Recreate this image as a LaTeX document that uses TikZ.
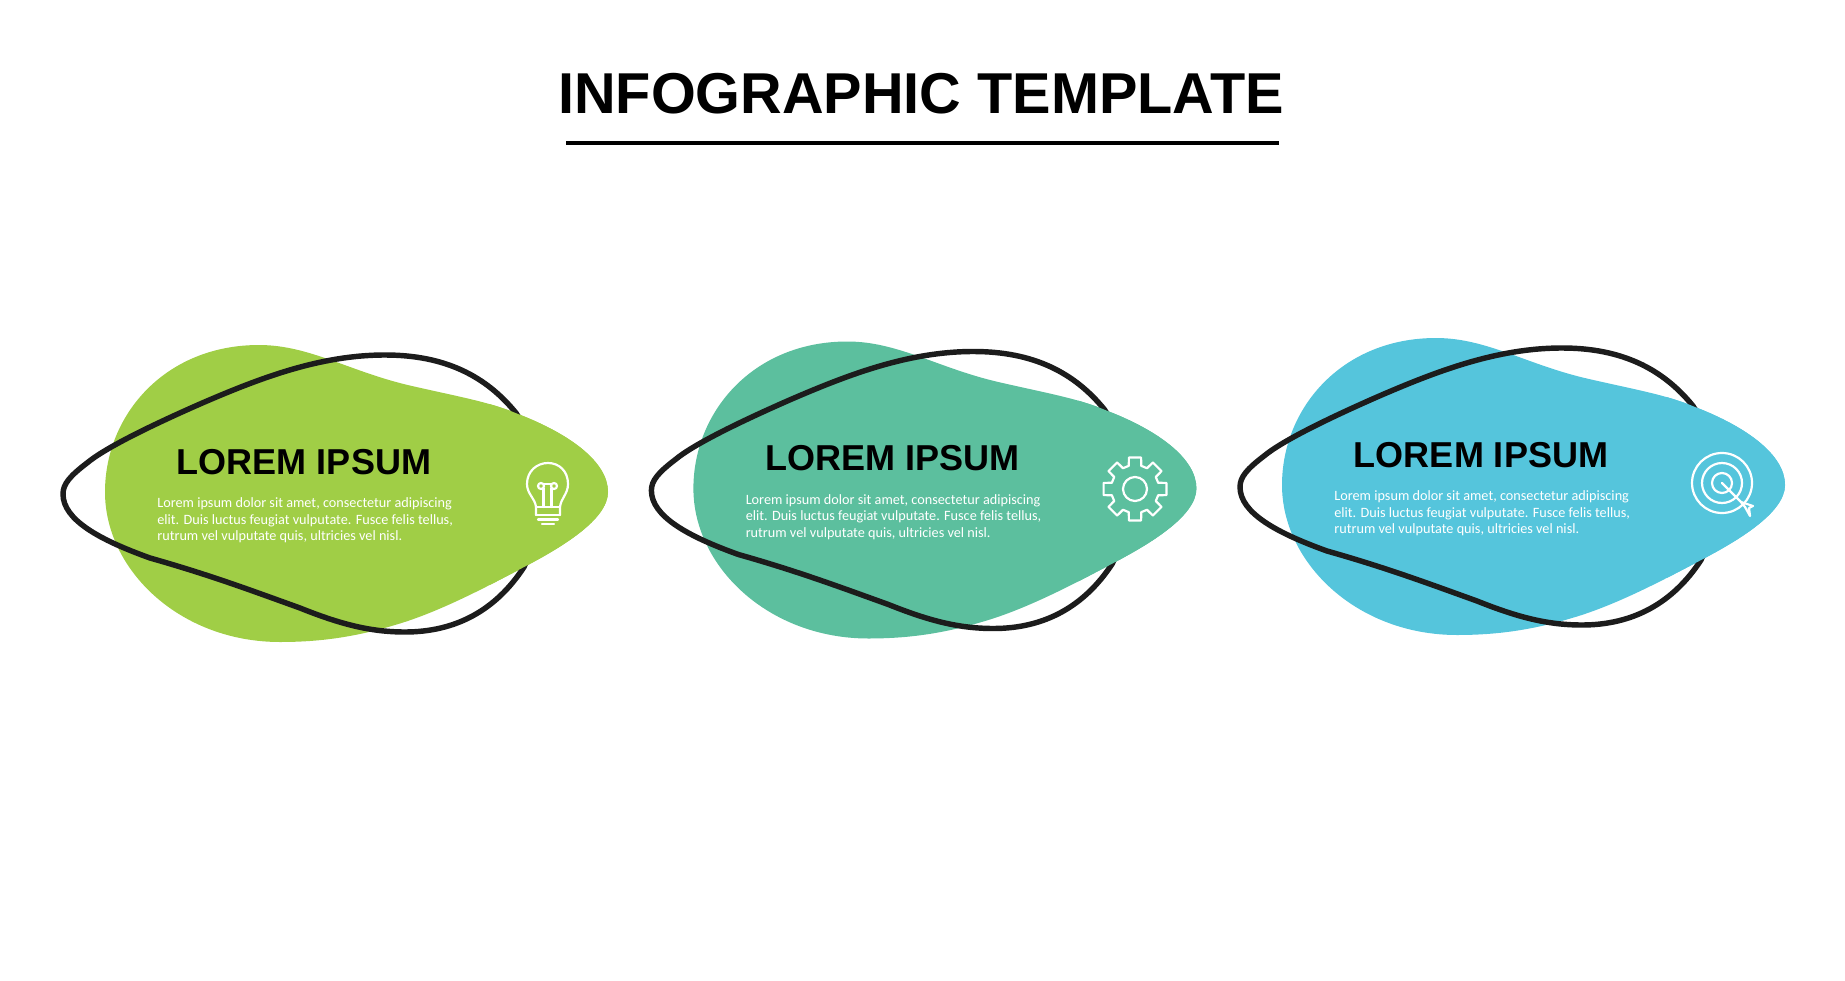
\documentclass[tikz,border=0pt]{standalone}
\usepackage{xcolor}
\usepackage{fontspec}
\setmainfont{Liberation Sans}
\newfontfamily\bodyfont{Carlito}
\usetikzlibrary{positioning,shapes,arrows}
\definecolor{cardgreen}{HTML}{A0CE46}
\definecolor{cardteal}{HTML}{5CBF9E}
\definecolor{cardblue}{HTML}{55C5DC}
\definecolor{ringline}{HTML}{1C1C1C}
\newcommand{\blobshape}{(259,345) .. controls (310,345) and (350,372) .. (412,386) .. controls (460,397) and (490,402) .. (518,414) .. controls (570,434) and (608,462) .. (608,492) .. controls (608,520) and (560,548) .. (526,566) .. controls (490,585) and (440,612) .. (395,625) .. controls (355,637) and (320,642) .. (280,642) .. controls (180,642) and (105,570) .. (105,492) .. controls (105,415) and (165,345) .. (259,345) -- cycle}
\newcommand{\ringshape}{(516,413) .. controls (486,376) and (445,355) .. (385,355) .. controls (320,355) and (260,378) .. (200,404) .. controls (150,426) and (105,448) .. (87,463) .. controls (70,476) and (63,484) .. (63,494) .. controls (63,520) and (100,540) .. (150,558) .. controls (210,575) and (250,590) .. (300,608) .. controls (340,624) and (370,632) .. (405,632) .. controls (456,632) and (496,610) .. (524,567) .. controls (541,530) and (541,450) .. (516,413) -- cycle}
\tikzset{
  titletext/.style={font=\fontsize{32.8}{36}\selectfont\bfseries, text=black, inner sep=0pt},
  headtext/.style={font=\fontsize{20.5}{24}\selectfont\bfseries, text=black, inner sep=0pt, anchor=base},
  bodytext/.style={font=\bodyfont\fontsize{8.1}{9.5}\selectfont, text=white, inner sep=0pt, anchor=west, align=left},
  iconline/.style={draw=white, line width=1.25pt, line join=round, line cap=round}
}
\begin{document}
\begin{tikzpicture}[x=0.02cm,y=-0.02cm]
  \useasboundingbox (0,0) rectangle (1845,980);
  \node[titletext] (title) at (921,94) {INFOGRAPHIC TEMPLATE};
  \coordinate (ruleL) at (566,143);
  \coordinate (ruleR) at (1279,143);
  \draw[line width=2.6pt, black] (ruleL) -- (ruleR);

  \foreach \n/\cardcolor/\dx/\dy in {1/cardgreen/0/0, 2/cardteal/588.4/-3.5, 3/cardblue/1177/-7}
  {
    \begin{scope}[shift={(\dx,\dy)}]
      \fill[\cardcolor] \blobshape;
      \draw[ringline, line width=3.1pt] \ringshape;
      % right part of the ring goes under the blob
      \begin{scope}
        \clip (490,380) rectangle (620,610);
        \fill[\cardcolor] \blobshape;
      \end{scope}
      \node[headtext] (head\n) at (304,474) {LOREM IPSUM};
      \node[bodytext] (body\n) at (157,520.5) {Lorem ipsum dolor sit amet, consectetur adipiscing\\elit. Duis luctus feugiat vulputate. Fusce felis tellus,\\rutrum vel vulputate quis, ultricies vel nisl.};
    \end{scope}
  }

  % bulb
  \begin{scope}[iconline]
    \draw (536,515) -- (536,507) .. controls (535,498) and (527,494) .. (527,484) .. controls (527,471) and (537,463) .. (548,463) .. controls (559,463) and (568,471) .. (568,484) .. controls (568,494) and (561,498) .. (560,507) -- (560,515);
    \draw (536,507) -- (560,507);
    \draw (536,515) -- (560,515);
    \draw (538,519.5) -- (558,519.5);
    \draw (542,524) -- (554,524);
    \draw (541,486) circle (3);
    \draw (554,486) circle (3);
    \draw (544,484) -- (551,484);
    \draw (543.5,488) -- (543.5,507);
    \draw (551.5,488) -- (551.5,507);
  \end{scope}

  % gear
  \begin{scope}[iconline, shift={(1135,489)}]
    \draw (0,0) circle (12);
    \draw (-15:24) \foreach \a in {0,45,...,315} { -- (\a-15:24) -- (\a-11:32) -- (\a+11:32) -- (\a+15:24) } -- cycle;
  \end{scope}

  % target
  \begin{scope}[iconline, shift={(1722,483)}]
    \draw (0,0) circle (30);
    \draw (0,0) circle (20);
    \draw (0,0) circle (10);
    \draw (0,0) -- (21,21);
    \draw (19,19) -- (31,23) -- (27,25) -- (28,33) -- (23,24) -- cycle;
  \end{scope}
\end{tikzpicture}
\end{document}
